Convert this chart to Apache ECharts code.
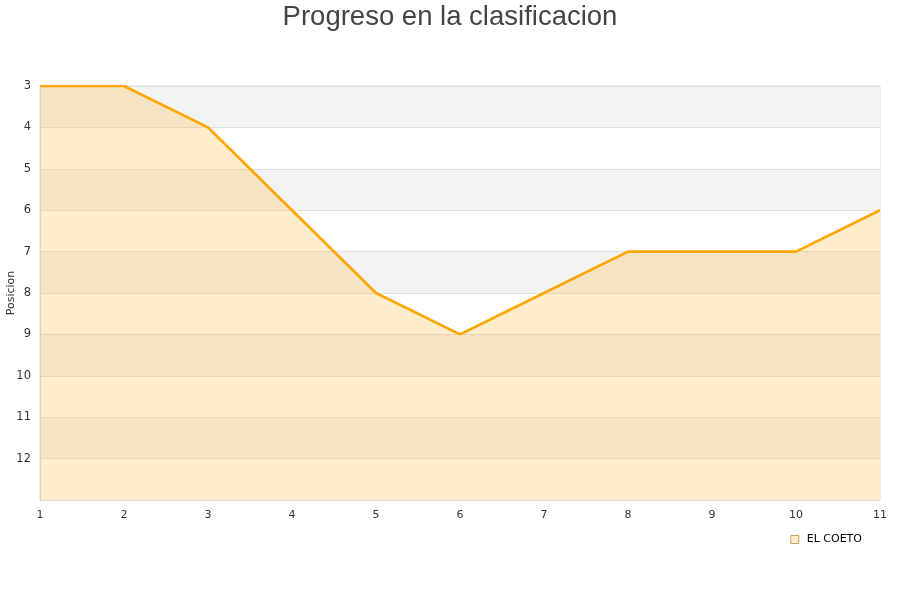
<!DOCTYPE html>
<html>
<head>
<meta charset="utf-8">
<script src="https://cdn.jsdelivr.net/npm/echarts@6/dist/echarts.min.js"></script>
<style>html,body{margin:0;padding:0;background:#fff}#c{width:900px;height:600px}</style>
</head>
<body>
<div id="c"></div>
<script>
var jornadas = [1, 2, 3, 4, 5, 6, 7, 8, 9, 10, 11];
var posiciones = [3, 3, 4, 6, 8, 9, 8, 7, 7, 7, 6];
var teamName = 'EL COETO';
var titleText = 'Progreso en la clasificacion';
var yName = 'Posicion';

var data = jornadas.map(function (j, i) { return [j, posiciones[i]]; });
var chart = echarts.init(document.getElementById('c'));
chart.setOption({
  animation: false,
  title: {
    text: titleText, left: 'center', top: -2,
    textStyle: { fontFamily: 'Liberation Sans', fontSize: 27.5, fontWeight: 'normal', color: '#444' }
  },
  grid: { left: 40, right: 20, top: 86, bottom: 100, containLabel: false, outerBoundsMode: 'none',
    show: true, borderColor: '#ddd', borderWidth: 1, backgroundColor: 'transparent' },
  legend: {
    right: 33, top: 529, itemWidth: 8, itemHeight: 8, icon: 'rect', itemGap: 10,
    textStyle: { fontFamily: 'DejaVu Sans', fontSize: 11, color: '#000', padding: [0, 0, 0, 3] },
    data: [{ name: teamName, itemStyle: { color: '#FFEDCC', borderColor: '#C8A060', borderWidth: 1 } }]
  },
  xAxis: {
    type: 'value', min: 1, max: 11, interval: 1,
    axisLine: { show: true, lineStyle: { color: '#ddd' } },
    axisTick: { show: false },
    splitLine: { show: false },
    axisLabel: { fontFamily: 'DejaVu Sans', fontSize: 11, color: '#333', margin: 10 }
  },
  yAxis: {
    type: 'value', inverse: true, min: 3, max: 13, interval: 1,
    name: yName, nameLocation: 'middle', nameGap: 23, nameRotate: 90, nameMoveOverlap: false,
    nameTextStyle: { fontFamily: 'DejaVu Sans', fontSize: 11, color: '#333' },
    axisLine: { show: true, lineStyle: { color: '#ddd' } },
    axisTick: { show: false },
    axisLabel: {
      fontFamily: 'DejaVu Sans', fontSize: 11.5, color: '#333', margin: 9,
      formatter: function (v) { return v === 13 ? '' : String(v); }
    },
    splitLine: { show: true, lineStyle: { color: '#e0e0e0' } },
    splitArea: { show: true, areaStyle: { color: ['#f3f3f3', '#ffffff'] } }
  },
  series: [{
    name: teamName, type: 'line', data: data, symbol: 'none',
    lineStyle: { color: '#FFA500', width: 2.7 },
    itemStyle: { color: '#FFA500' },
    areaStyle: { color: 'rgba(255,165,0,0.2)', opacity: 1, origin: 'end' }
  }]
});
</script>
</body>
</html>
